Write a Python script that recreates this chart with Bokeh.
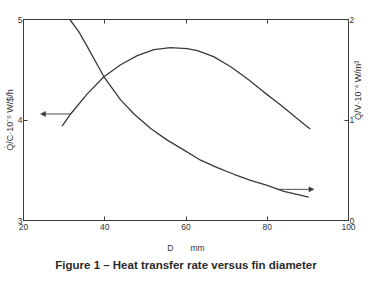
from bokeh.plotting import figure
from bokeh.models import (Range1d, LinearAxis, FixedTicker, Arrow, NormalHead, Title)
from bokeh.embed import file_html
from bokeh.resources import INLINE

# Heat transfer rate per cost (left axis), Q/C * 1e-5 W/$/h
qc_D = [29.5, 31.6, 35.7, 39.8, 43.9, 48.0, 52.1, 56.2, 60.3, 62.8, 66.8, 71.0, 75.1, 79.1, 83.3, 89.0, 90.6]
qc_val = [3.94, 4.06, 4.26, 4.43, 4.55, 4.64, 4.70, 4.72, 4.71, 4.69, 4.63, 4.53, 4.41, 4.28, 4.15, 3.96, 3.91]

# Heat transfer rate per volume (right axis), Q/V * 1e-4 W/m^3
qv_D = [31.4, 33.6, 35.7, 39.8, 43.9, 47.2, 51.3, 55.4, 59.5, 63.6, 67.7, 71.8, 75.9, 80.0, 84.1, 90.2]
qv_val = [2.0, 1.88, 1.73, 1.43, 1.20, 1.06, 0.915, 0.80, 0.70, 0.60, 0.526, 0.46, 0.40, 0.35, 0.29, 0.233]

x_ticks = [20, 40, 60, 80, 100]
left_ticks = [3, 4, 5]
right_ticks = [0, 1, 2]

# Arrows indicating which axis each curve belongs to
left_arrow = dict(x_start=31.6, x_end=24.2, y=4.06)
right_arrow = dict(x_start=82.4, x_end=91.5, y=0.31)

INK = "#3a3a3a"
TXT = "#333333"
FONT = "Liberation Sans"

p = figure(width=371, height=281, output_backend="svg", toolbar_location=None,
           x_range=Range1d(20, 100), y_range=Range1d(3, 5),
           min_border_left=23, min_border_right=23, min_border_top=19, min_border_bottom=61,
           x_axis_location=None, y_axis_location=None)
p.extra_y_ranges = {"right": Range1d(0, 2)}
p.grid.visible = False
p.outline_line_color = INK
p.outline_line_width = 1
p.background_fill_color = "white"
p.border_fill_color = "white"


def style(ax):
    ax.major_tick_in = 4
    ax.major_tick_out = 0
    ax.minor_tick_in = 0
    ax.minor_tick_out = 0
    ax.axis_line_color = INK
    ax.major_tick_line_color = INK
    ax.major_label_text_font = FONT
    ax.major_label_text_font_size = "8.5px"
    ax.major_label_text_color = TXT
    ax.major_label_standoff = 1
    ax.axis_label_text_font = FONT
    ax.axis_label_text_font_style = "normal"
    ax.axis_label_text_color = TXT


bottom = LinearAxis(ticker=FixedTicker(ticks=x_ticks), axis_label="D\u2003\u2003mm")
style(bottom)
bottom.major_label_standoff = 3
bottom.axis_label_standoff = 10
bottom.axis_label_text_font_size = "8.5px"
p.add_layout(bottom, "below")

top = LinearAxis(ticker=FixedTicker(ticks=x_ticks))
style(top)
top.major_label_overrides = {t: "" for t in x_ticks}
p.add_layout(top, "above")

left = LinearAxis(ticker=FixedTicker(ticks=left_ticks),
                  axis_label="Q\u0307/C\u00b710\u207b\u2075 W/$/h")
style(left)
left.axis_label_standoff = 0
left.axis_label_text_font_size = "9px"
p.add_layout(left, "left")

right = LinearAxis(y_range_name="right", ticker=FixedTicker(ticks=right_ticks),
                   axis_label="Q\u0307/V\u00b710\u207b\u2074 W/m\u00b3")
style(right)
right.major_label_standoff = 1
right.axis_label_standoff = 1
right.axis_label_text_font_size = "9px"
if "axis_label_orientation" in right.properties():
    right.axis_label_orientation = 1.5708
p.add_layout(right, "right")

caption = Title(text="Figure 1 \u2013 Heat transfer rate versus fin diameter",
                align="center", text_font=FONT, text_font_style="bold",
                text_font_size="11.5px", text_color="#2a2a2a", standoff=2)
p.add_layout(caption, "below")

p.line(qc_D, qc_val, line_color=INK, line_width=1.3)
p.line(qv_D, qv_val, line_color=INK, line_width=1.3, y_range_name="right")

p.add_layout(Arrow(x_start=left_arrow["x_start"], x_end=left_arrow["x_end"],
                   y_start=left_arrow["y"], y_end=left_arrow["y"],
                   line_color=INK, line_width=0.9,
                   end=NormalHead(size=5, line_color=INK, fill_color=INK, line_width=0.5)))
p.add_layout(Arrow(x_start=right_arrow["x_start"], x_end=right_arrow["x_end"],
                   y_start=right_arrow["y"], y_end=right_arrow["y"], y_range_name="right",
                   line_color=INK, line_width=0.9,
                   end=NormalHead(size=5, line_color=INK, fill_color=INK, line_width=0.5)))

open("out.html", "w").write(file_html(p, INLINE))
